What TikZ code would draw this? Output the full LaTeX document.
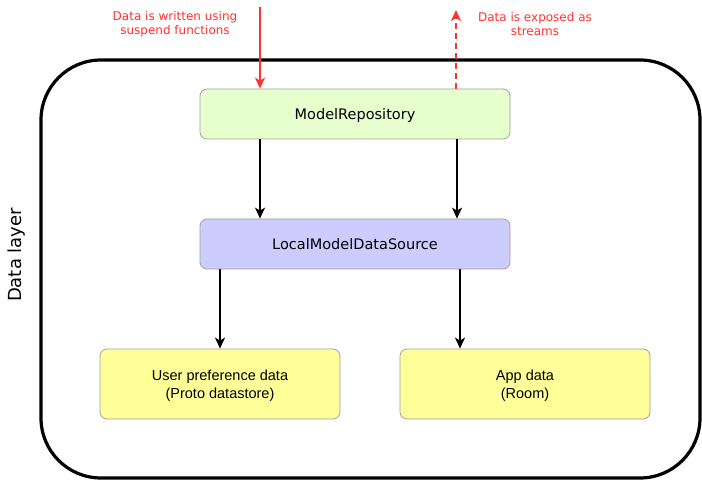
\documentclass[tikz,border=0pt]{standalone}
\usepackage{fontspec}
\setmainfont{DejaVu Sans}
\newfontfamily\arialfont{Liberation Sans}
\usetikzlibrary{arrows.meta}
\definecolor{boxgreen}{HTML}{E6FFCC}
\definecolor{boxblue}{HTML}{CCCCFF}
\definecolor{boxyellow}{HTML}{FFFF99}
\definecolor{boxstroke}{HTML}{A0A0A0}
\definecolor{redline}{HTML}{FF3333}
\tikzset{
  px/.style={x=1pt,y=-1pt},
  compbox/.style={draw=boxstroke, line width=0.8pt, rounded corners=7pt, inner sep=0pt, align=center, text depth=0pt},
  flow/.style={line width=1.5pt, -{Stealth[length=11pt,width=10pt,inset=3pt]}},
  redflow/.style={line width=1.5pt, draw=redline, -{Stealth[length=11pt,width=10pt,inset=3pt]}, redline},
  redlabel/.style={text=redline, font=\fontsize{12}{14}\selectfont, align=center},
}
\begin{document}
\begin{tikzpicture}[px]
\useasboundingbox (0,0) rectangle (702,481);
\fill[white] (0,0) rectangle (702,481);
% outer container
\draw[line width=3.2pt, rounded corners=60pt] (41,60) rectangle (700,478);
\node[rotate=90, font=\fontsize{18}{20}\selectfont] (layer) at (17,255) {Data layer};
% boxes
\node[compbox, fill=boxgreen, minimum width=310pt, minimum height=50pt, font=\fontsize{14.5}{17}\selectfont] (repo) at (355,114) {ModelRepository};
\node[compbox, fill=boxblue, minimum width=310pt, minimum height=50pt, font=\fontsize{14.5}{17}\selectfont] (local) at (355,244) {LocalModelDataSource};
\node[compbox, fill=boxyellow, minimum width=240pt, minimum height=70pt, font=\arialfont\fontsize{14.5}{17.5}\selectfont] (user) at (220,384) {User preference data\\(Proto datastore)};
\node[compbox, fill=boxyellow, minimum width=250pt, minimum height=70pt, font=\arialfont\fontsize{14.5}{17.5}\selectfont] (app) at (525,384) {App data\\(Room)};
% black arrows
\draw[flow] (repo.south -| 260,0) -- (local.north -| 260,0);
\draw[flow] (repo.south -| 457,0) -- (local.north -| 457,0);
\draw[flow] (local.south -| 220,0) -- (user.north -| 220,0);
\draw[flow] (local.south -| 460,0) -- (app.north -| 460,0);
% red arrows
\coordinate (inTop) at (260,7);
\coordinate (outTop) at (456,10);
\draw[redflow] (inTop) -- (repo.north -| inTop);
\draw[redflow, dashed, dash pattern=on 6pt off 4pt] (repo.north -| outTop) -- (outTop);
\node[redlabel] (inlabel) at (175,24) {Data is written using\\suspend functions};
\node[redlabel] (outlabel) at (535,24) {Data is exposed as\\streams};
\end{tikzpicture}
\end{document}
